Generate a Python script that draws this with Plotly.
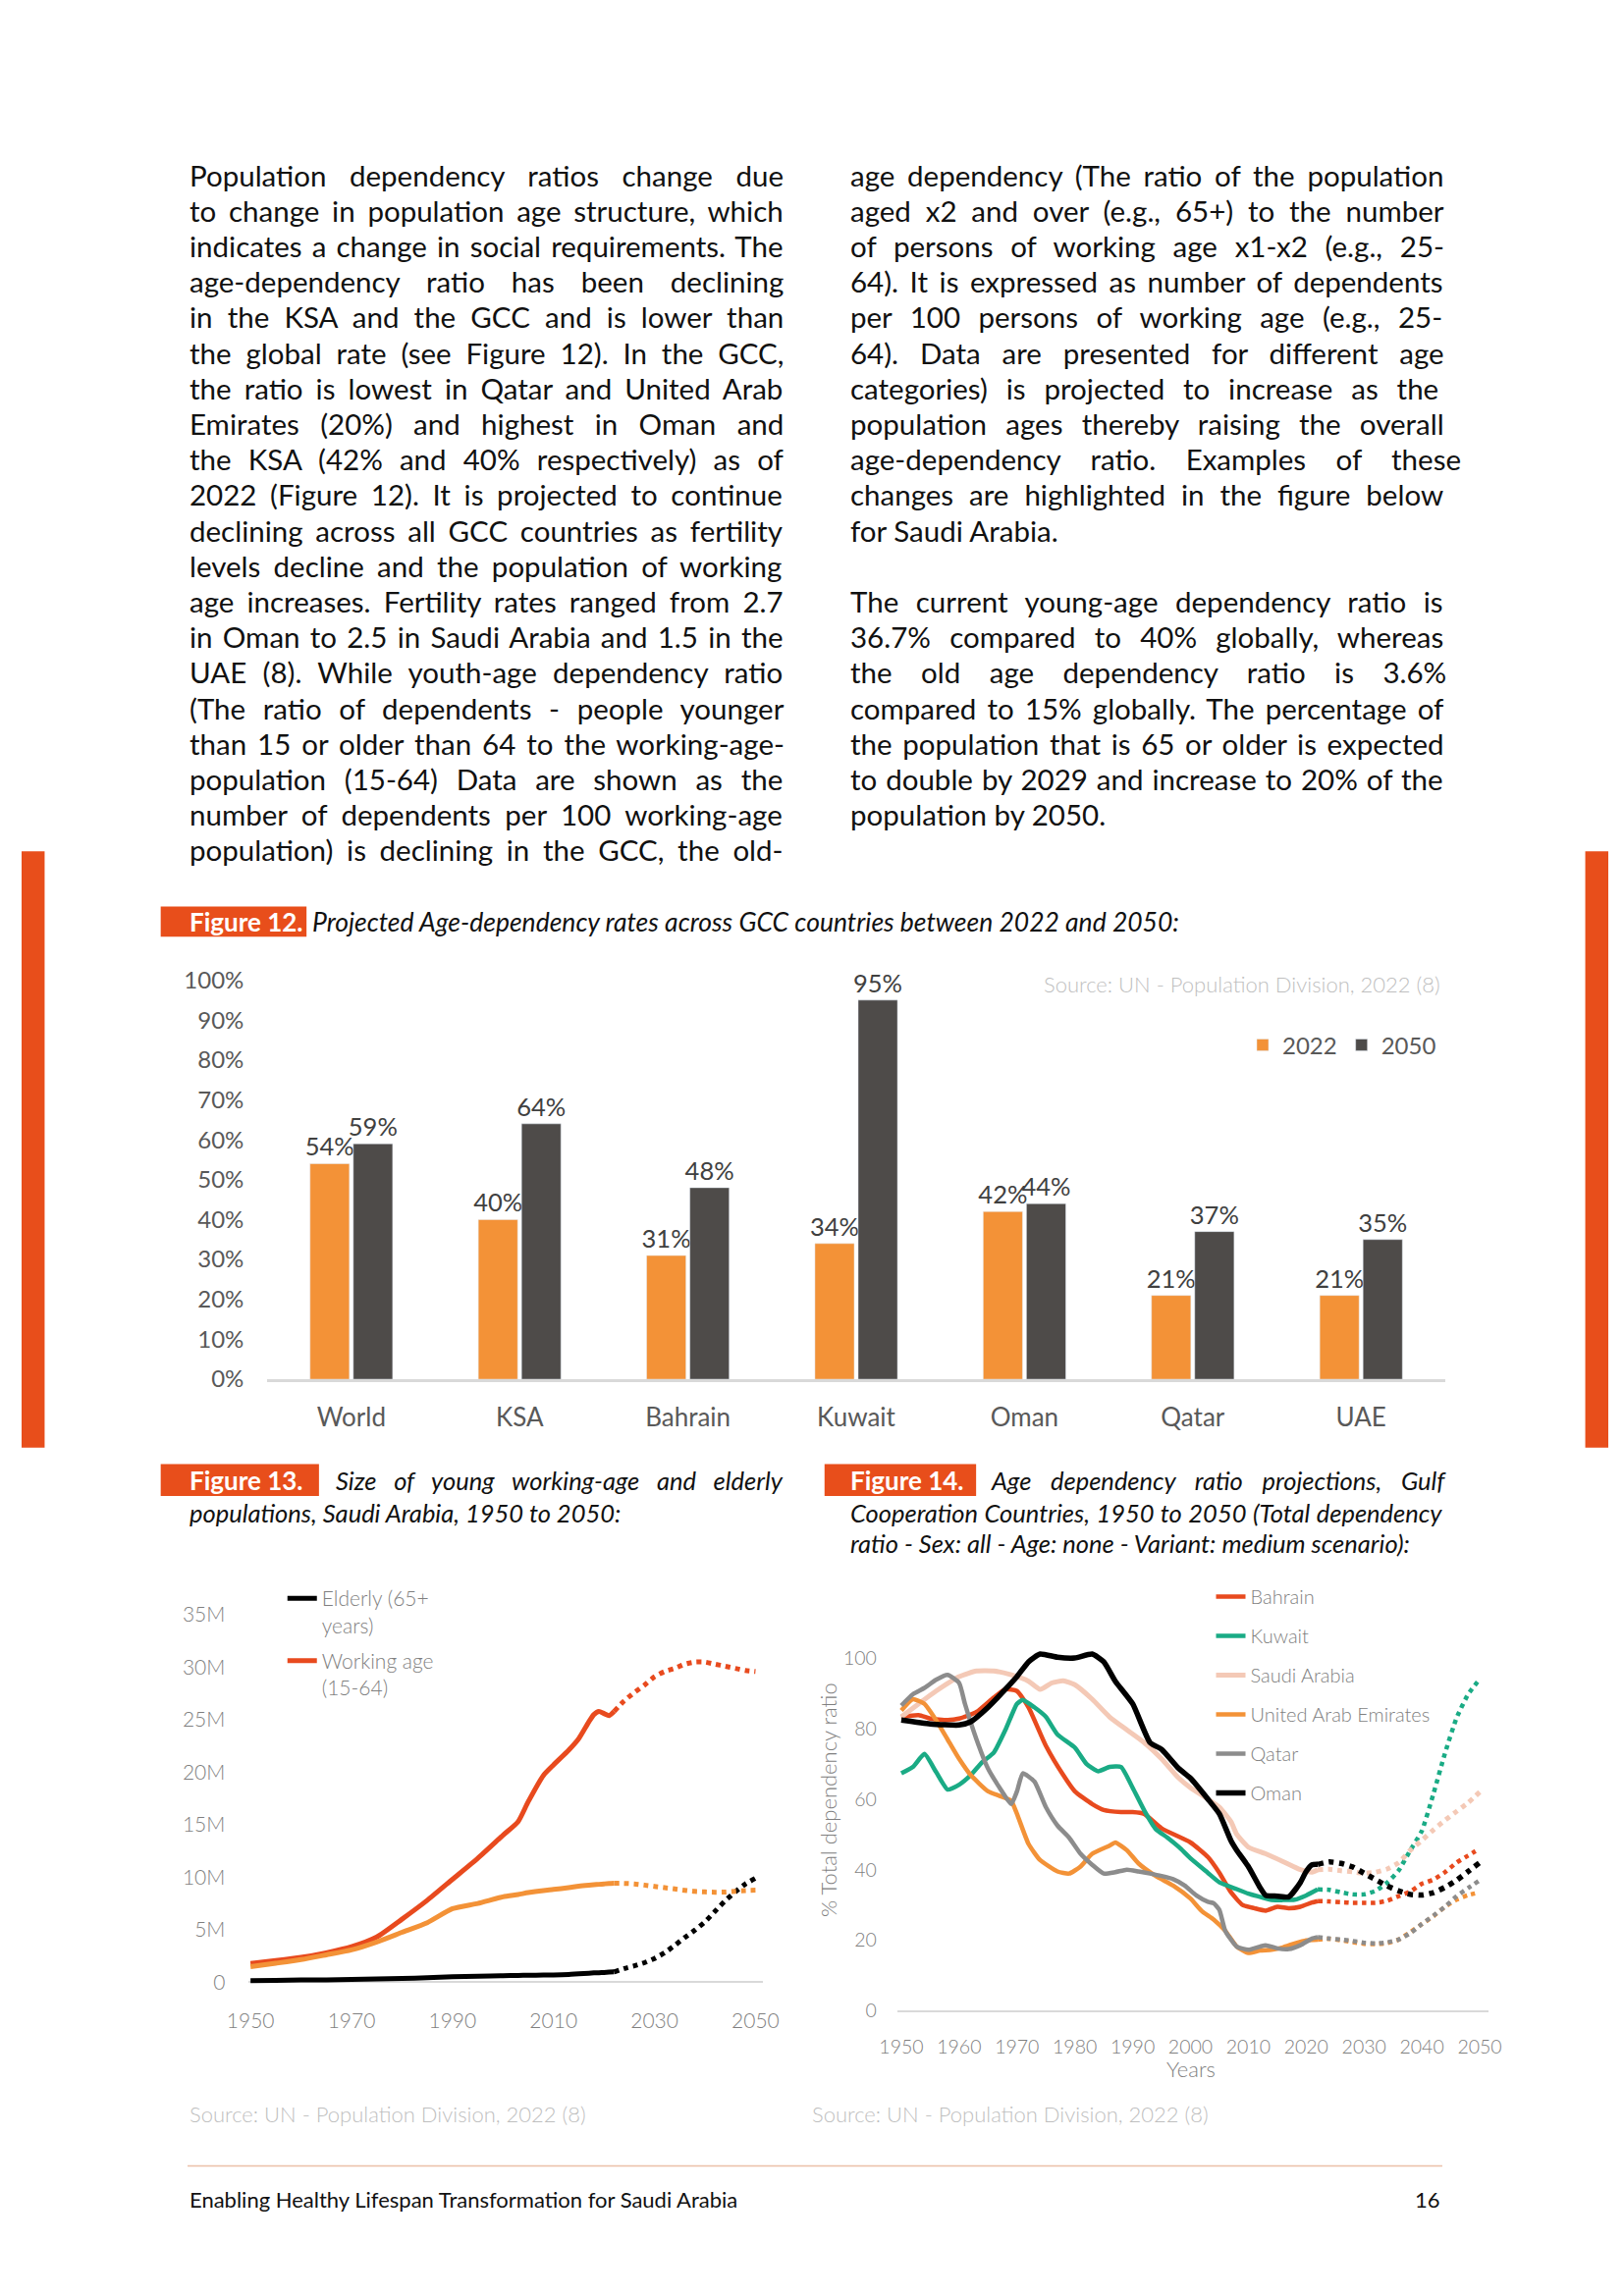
import plotly.graph_objects as go

W, H = 1654, 2339
def px(x): return x / W
def py(y): return 1 - y / H

FONT = "Lato"
BRAND = "#E84E1B"

# ---------------- Figure 12 data ----------------
countries = ["World", "KSA", "Bahrain", "Kuwait", "Oman", "Qatar", "UAE"]
ratio_2022 = [54, 40, 31, 34, 42, 21, 21]
ratio_2050 = [59, 64, 48, 95, 44, 37, 35]
pct_ticks = [0, 10, 20, 30, 40, 50, 60, 70, 80, 90, 100]
pct_labels = ["0%", "10%", "20%", "30%", "40%", "50%", "60%", "70%", "80%", "90%", "100%"]

# ---------------- Figure 13 data (millions) ----------------
f13_years_hist = [1950, 1955, 1960, 1965, 1970, 1975, 1980, 1985, 1990, 1995, 2000, 2003,
                  2005, 2008, 2010, 2013, 2015, 2017, 2018, 2019, 2020, 2021, 2022]
working_hist = [1.78, 2.05, 2.36, 2.8, 3.37, 4.3, 6.0, 7.8, 9.8, 11.8, 14.0, 15.3,
                17.2, 19.7, 20.7, 22.1, 23.2, 24.8, 25.5, 25.8, 25.6, 25.4, 25.8]
young_hist = [1.47, 1.8, 2.15, 2.6, 3.07, 3.83, 4.75, 5.67, 7.0, 7.5, 8.13, 8.35,
              8.53, 8.73, 8.83, 9.0, 9.14, 9.24, 9.28, 9.32, 9.36, 9.4, 9.42]
elderly_hist = [0.15, 0.17, 0.2, 0.22, 0.25, 0.3, 0.34, 0.42, 0.52, 0.57, 0.61, 0.64,
                0.66, 0.67, 0.67, 0.72, 0.8, 0.85, 0.88, 0.9, 0.92, 0.95, 0.98]
f13_years_proj = [2022, 2024, 2026, 2028, 2030, 2032, 2034, 2036, 2038, 2040, 2042, 2044, 2046, 2048, 2050]
working_proj = [25.8, 26.8, 27.6, 28.3, 29.1, 29.6, 29.9, 30.3, 30.5, 30.5, 30.3, 30.1, 29.9, 29.7, 29.6]
young_proj = [9.42, 9.41, 9.36, 9.25, 9.12, 9.0, 8.88, 8.75, 8.65, 8.6, 8.57, 8.58, 8.66, 8.73, 8.76]
elderly_proj = [0.98, 1.3, 1.55, 1.85, 2.25, 2.8, 3.5, 4.25, 4.95, 5.75, 6.75, 7.75, 8.6, 9.35, 9.9]
f13_xticks = [1950, 1970, 1990, 2010, 2030, 2050]
f13_yticks = [0, 5, 10, 15, 20, 25, 30, 35]
f13_ylabels = ["0", "5M", "10M", "15M", "20M", "25M", "30M", "35M"]

# ---------------- Figure 14 data (% total dependency ratio) ----------------
proj_years = [2022, 2024, 2026, 2028, 2030, 2032, 2034, 2036, 2038, 2040, 2042, 2044, 2046, 2048, 2050]

bahrain_years = [1950, 1953, 1955, 1958, 1960, 1963, 1966, 1968, 1970, 1972, 1975, 1978, 1980, 1983,
                 1985, 1988, 1990, 1992, 1995, 2000, 2003, 2005, 2007, 2009, 2011, 2013, 2015, 2017,
                 2019, 2021, 2022]
bahrain_hist = [83.3, 83.8, 82.8, 82.4, 82.8, 84.7, 88.8, 91.1, 90.6, 86.0, 75.1, 66.8, 62.2, 58.6,
                56.9, 56.3, 56.3, 55.8, 51.7, 47.7, 43.6, 39.1, 33.6, 30.0, 29.1, 28.4, 29.5, 29.1,
                29.5, 30.7, 31.1]
bahrain_proj = [31.1, 31.0, 30.8, 30.6, 30.6, 30.6, 31.2, 32.5, 33.8, 36.0, 37.2, 39.3, 42.0, 44.0, 46.0]

kuwait_years = [1950, 1952, 1954, 1956, 1958, 1960, 1962, 1964, 1966, 1968, 1970, 1971, 1973, 1975,
                1977, 1980, 1982, 1984, 1986, 1988, 1990, 1992, 1994, 1996, 1998, 2000, 2003, 2005,
                2008, 2010, 2012, 2014, 2016, 2018, 2020, 2022]
kuwait_hist = [67.3, 69.1, 72.8, 67.7, 62.7, 64.1, 66.8, 70.5, 73.2, 79.6, 87.0, 88.1, 86.0, 83.3,
               78.3, 74.6, 70.0, 67.9, 69.1, 69.1, 63.2, 56.8, 51.5, 49.1, 46.4, 43.2, 39.1, 36.4,
               34.5, 33.2, 32.3, 31.4, 31.4, 31.5, 32.7, 34.4]
kuwait_proj = [34.4, 34.3, 33.6, 33.0, 33.0, 34.0, 36.3, 39.8, 45.5, 51.0, 61.5, 73.0, 83.0, 89.7, 94.0]

saudi_years = [1950, 1953, 1956, 1960, 1963, 1966, 1969, 1972, 1974, 1976, 1978, 1980, 1983, 1986,
               1989, 1992, 1995, 1998, 2000, 2003, 2005, 2007, 2008, 2010, 2013, 2016, 2019, 2021, 2022]
saudi_hist = [83.3, 87.0, 90.6, 94.7, 96.3, 96.3, 95.2, 93.4, 91.1, 92.9, 93.5, 92.4, 88.3, 83.3,
              79.6, 76.0, 71.4, 65.9, 63.2, 60.0, 57.7, 53.6, 50.0, 46.4, 44.5, 42.3, 40.0, 39.3, 40.0]
saudi_proj = [40.0, 40.1, 39.7, 39.4, 39.0, 39.3, 40.2, 42.0, 45.5, 48.3, 51.3, 54.0, 56.5, 59.0, 62.0]

uae_years = [1950, 1952, 1954, 1956, 1958, 1960, 1962, 1965, 1967, 1969, 1970, 1972, 1974, 1977,
             1979, 1981, 1983, 1986, 1987, 1989, 1991, 1994, 1997, 2000, 2002, 2004, 2006, 2008,
             2010, 2012, 2014, 2016, 2018, 2020, 2022]
uae_hist = [85.1, 88.3, 87.0, 82.4, 76.9, 71.4, 66.8, 62.2, 60.9, 59.5, 55.8, 47.3, 42.7, 39.5,
            38.9, 40.9, 44.5, 46.8, 47.7, 45.5, 41.8, 38.2, 35.5, 31.8, 28.2, 25.9, 22.7, 18.2,
            16.4, 17.1, 17.3, 18.0, 19.1, 20.0, 20.2]
uae_proj = [20.2, 20.4, 20.0, 19.5, 19.0, 18.9, 19.2, 20.2, 22.3, 24.6, 26.8, 29.5, 31.5, 32.8, 33.6]

qatar_years = [1950, 1952, 1954, 1956, 1958, 1960, 1961, 1963, 1965, 1967, 1969, 1970, 1971, 1973,
               1975, 1977, 1979, 1981, 1983, 1985, 1987, 1989, 1991, 1993, 1995, 1997, 1999, 2001,
               2003, 2004, 2005, 2006, 2008, 2010, 2012, 2013, 2015, 2017, 2019, 2021, 2022]
qatar_hist = [86.5, 89.7, 91.5, 93.8, 95.2, 92.9, 87.0, 76.9, 68.6, 63.2, 58.6, 62.2, 67.3, 65.0,
              57.7, 52.5, 49.1, 44.5, 41.4, 38.9, 39.3, 40.0, 39.5, 38.9, 38.2, 37.3, 35.5, 32.7,
              30.9, 30.5, 28.6, 22.7, 18.2, 17.3, 18.2, 18.6, 17.7, 17.5, 18.6, 20.5, 20.9]
qatar_proj = [20.9, 20.5, 20.2, 19.8, 19.3, 19.1, 19.4, 20.2, 22.0, 24.6, 27.0, 29.5, 32.5, 34.8, 37.0]

oman_years = [1950, 1955, 1960, 1962, 1965, 1968, 1970, 1972, 1974, 1977, 1980, 1983, 1985, 1987,
              1990, 1993, 1995, 1998, 2000, 2003, 2005, 2007, 2008, 2010, 2012, 2013, 2015, 2017,
              2019, 2020, 2021, 2022]
oman_hist = [82.4, 81.3, 81.0, 81.9, 86.0, 91.1, 94.7, 98.9, 101.1, 100.2, 100.0, 101.1, 98.9, 93.4,
             87.0, 76.0, 74.1, 68.6, 65.9, 60.0, 55.8, 48.2, 45.5, 40.9, 35.0, 32.7, 32.5, 32.3,
             36.4, 39.5, 41.4, 41.5]
oman_proj = [41.5, 42.2, 41.8, 40.8, 39.0, 37.2, 35.4, 34.0, 33.0, 32.8, 33.5, 35.0, 37.0, 39.5, 42.0]

f14_xticks = [1950, 1960, 1970, 1980, 1990, 2000, 2010, 2020, 2030, 2040, 2050]
f14_yticks = [0, 20, 40, 60, 80, 100]

# ---------------- Text ----------------
left_lines = [
    "Population dependency ratios change due",
    "to change in population age structure, which",
    "indicates a change in social requirements. The",
    "age-dependency ratio has been declining",
    "in the KSA and the GCC and is lower than",
    "the global rate (see Figure 12). In the GCC,",
    "the ratio is lowest in Qatar and United Arab",
    "Emirates (20%) and highest in Oman and",
    "the KSA (42% and 40% respectively) as of",
    "2022 (Figure 12). It is projected to continue",
    "declining across all GCC countries as fertility",
    "levels decline and the population of working",
    "age increases. Fertility rates ranged from 2.7",
    "in Oman to 2.5 in Saudi Arabia and 1.5 in the",
    "UAE (8). While youth-age dependency ratio",
    "(The ratio of dependents - people younger",
    "than 15 or older than 64 to the working-age-",
    "population (15-64) Data are shown as the",
    "number of dependents per 100 working-age",
    "population) is declining in the GCC, the old-",
]
# approximate natural line widths (px at 28px font), used only to justify the lines
left_nat28 = [525, 556, 571, 512, 521, 530, 544, 507, 522, 545, 556, 553, 554, 560, 544, 528,
              560, 522, 553, 545]
right_lines = [
    "age dependency (The ratio of the population",
    "aged x2 and over (e.g., 65+) to the number",
    "of persons of working age x1-x2 (e.g., 25-",
    "64). It is expressed as number of dependents",
    "per 100 persons of working age (e.g., 25-",
    "64). Data are presented for different age",
    "categories) is projected to increase as the",
    "population ages thereby raising the overall",
    "age-dependency ratio. Examples of these",
    "changes are highlighted in the figure below",
    "for Saudi Arabia.",
    "",
    "The current young-age dependency ratio is",
    "36.7% compared to 40% globally, whereas",
    "the old age dependency ratio is 3.6%",
    "compared to 15% globally. The percentage of",
    "the population that is 65 or older is expected",
    "to double by 2029 and increase to 20% of the",
    "population by 2050.",
]
right_nat28 = [556, 530, 518, 559, 513, 504, 521, 530, 499, 538, None, None,
               538, 530, 461, 565, 562, 574, None]

fig = go.Figure()

# ---- Figure 12 bars ----
for name, vals, col in [("2022", ratio_2022, "#F39237"), ("2050", ratio_2050, "#4E4B49")]:
    fig.add_trace(go.Bar(x=countries, y=vals, name=name, marker_color=col,
                         text=[f"{v}%" for v in vals], textposition="outside",
                         textfont=dict(size=25.5, color="#404040", family=FONT), cliponaxis=False,
                         constraintext="none", xaxis="x", yaxis="y", legend="legend"))

# ---- Figure 13 lines ----
def add13(xh, yh, xp, yp, color, name, show):
    fig.add_trace(go.Scatter(x=xh, y=yh, mode="lines", name=name, showlegend=show,
                             line=dict(color=color, width=5, shape="spline", smoothing=0.6),
                             legendgroup=name + "13", xaxis="x2", yaxis="y2", legend="legend2"))
    fig.add_trace(go.Scatter(x=xp, y=yp, mode="lines", name=name, showlegend=False,
                             line=dict(color=color, width=5, dash="5px,5px", shape="spline",
                                       smoothing=0.6),
                             legendgroup=name + "13", xaxis="x2", yaxis="y2", legend="legend2"))

add13(f13_years_hist, elderly_hist, f13_years_proj, elderly_proj, "#000000", "Elderly (65+<br>years)", True)
add13(f13_years_hist, working_hist, f13_years_proj, working_proj, "#E84A1E", "Working age<br>(15-64)", True)
add13(f13_years_hist, young_hist, f13_years_proj, young_proj, "#F39237", "Young (0-14)", False)

# ---- Figure 14 lines ----
series14 = [
    ("Bahrain", bahrain_years, bahrain_hist, bahrain_proj, "#E84A1E", 4.5),
    ("Kuwait", kuwait_years, kuwait_hist, kuwait_proj, "#1AAB85", 4.5),
    ("Saudi Arabia", saudi_years, saudi_hist, saudi_proj, "#F4C9B6", 5),
    ("United Arab Emirates", uae_years, uae_hist, uae_proj, "#F39237", 4.5),
    ("Qatar", qatar_years, qatar_hist, qatar_proj, "#8C8C8C", 4.5),
    ("Oman", oman_years, oman_hist, oman_proj, "#000000", 5.5),
]
for i, (name, yrs, hist, proj, color, lw) in enumerate(series14):
    fig.add_trace(go.Scatter(x=yrs, y=hist, mode="lines", name=name, legendgroup=name,
                             line=dict(color=color, width=lw, shape="spline", smoothing=0.5),
                             xaxis="x3", yaxis="y3", legend="legend3"))
    fig.add_trace(go.Scatter(x=proj_years, y=proj, mode="lines", name=name, legendgroup=name,
                             showlegend=False,
                             line=dict(color=color, width=lw, dash="%.1fpx,%.1fpx" % (lw, lw),
                                       shape="spline", smoothing=0.5),
                             xaxis="x3", yaxis="y3", legend="legend3"))

# ---------------- Layout: axes ----------------
tick_gray = "#595959"
light_gray = "#7F7F7F"
axis_line = "#D9D9D9"

layout = dict(
    width=W, height=H, autosize=False,
    margin=dict(l=0, r=0, t=0, b=0),
    paper_bgcolor="white", plot_bgcolor="rgba(0,0,0,0)",
    font=dict(family=FONT, color="#000000"),
    barmode="group", bargap=0.486, bargroupgap=0.09,
    # Fig 12
    xaxis=dict(domain=[px(256), px(1484)], anchor="y", showline=True, linecolor=axis_line,
               linewidth=3, showgrid=False, ticks="outside", ticklen=14,
               tickcolor="rgba(0,0,0,0)", tickfont=dict(size=26, color=tick_gray, family=FONT)),
    yaxis=dict(domain=[py(1406.5), py(994.8)], anchor="x", range=[0, 100], tickvals=pct_ticks,
               ticktext=pct_labels, showgrid=False, zeroline=False, showline=False,
               ticks="outside", ticklen=18, tickcolor="rgba(0,0,0,0)",
               tickfont=dict(size=24, color=tick_gray, family=FONT)),
    # Fig 13
    xaxis2=dict(domain=[px(236), px(772.9)], anchor="y2", range=[1949.5, 2051.5],
                tickvals=f13_xticks, showgrid=False, showline=False, zeroline=False,
                ticks="outside", ticklen=14, tickcolor="rgba(0,0,0,0)",
                tickfont=dict(size=21, color=light_gray, family=FONT, weight=300)),
    yaxis2=dict(domain=[py(2034.9), py(1627.9)], anchor="x2", range=[-0.6, 37],
                tickvals=f13_yticks, ticktext=f13_ylabels, showgrid=False, showline=False,
                zeroline=True, zerolinecolor=axis_line, zerolinewidth=2,
                ticks="outside", ticklen=18, tickcolor="rgba(0,0,0,0)",
                tickfont=dict(size=21, color=light_gray, family=FONT, weight=300)),
    # Fig 14
    xaxis3=dict(domain=[px(912.8), px(1529)], anchor="y3", range=[1949.3, 2051.5],
                tickvals=f14_xticks, showgrid=False, showline=False, zeroline=False,
                ticks="outside", ticklen=14, tickcolor="rgba(0,0,0,0)",
                tickfont=dict(size=19.5, color=light_gray, family=FONT, weight=300)),
    yaxis3=dict(domain=[py(2063.5), py(1679.4)], anchor="x3", range=[-1.5, 104],
                tickvals=f14_yticks, showgrid=False, showline=False,
                zeroline=True, zerolinecolor=axis_line, zerolinewidth=2,
                ticks="outside", ticklen=16, tickcolor="rgba(0,0,0,0)",
                tickfont=dict(size=19.5, color=light_gray, family=FONT, weight=300)),
    legend=dict(orientation="h", x=px(1480), xanchor="right", y=py(1062), yanchor="middle",
                font=dict(size=24, color=tick_gray, family=FONT), bgcolor="rgba(0,0,0,0)",
                itemwidth=30, traceorder="normal"),
    legend2=dict(x=px(272), xanchor="left", y=py(1612), yanchor="top", valign="top",
                 font=dict(size=21, color=light_gray, family=FONT, weight=300),
                 bgcolor="rgba(0,0,0,0)", tracegroupgap=6, traceorder="grouped"),
    legend3=dict(x=px(1240), xanchor="left", y=py(1611), yanchor="top",
                 font=dict(size=20, color=light_gray, family=FONT, weight=300),
                 bgcolor="rgba(0,0,0,0)", tracegroupgap=11, traceorder="grouped"),
)
fig.update_layout(**layout)

# ---------------- Shapes ----------------
def rect(x0, x1, y0, y1, color):
    return dict(type="rect", xref="paper", yref="paper", x0=px(x0), x1=px(x1),
                y0=py(y1), y1=py(y0), fillcolor=color, line_width=0, layer="below")

shapes = [
    rect(0, 24, 862, 1477, BRAND),
    rect(1630, 1654, 862, 1477, BRAND),
    rect(145, 297, 919, 950, BRAND),
    rect(145, 310, 1494, 1527, BRAND),
    rect(837, 995, 1494, 1527, BRAND),
    dict(type="line", xref="paper", yref="paper", x0=px(173), x1=px(1481), y0=py(2218), y1=py(2218),
         line=dict(color="#EBC0A8", width=1.5)),
]
fig.update_layout(shapes=shapes)

# ---------------- Annotations ----------------
ann = []
def text(x, y, s, size, color="#000000", anchor="left", style="normal", weight="normal",
         angle=0):
    ann.append(dict(x=px(x), y=py(y), xref="paper", yref="paper", text=s, showarrow=False,
                    xanchor=anchor, yanchor="middle", textangle=angle,
                    font=dict(family=FONT, size=size, color=color, style=style, weight=weight)))

def justify(s, nat, size, base, target):
    if nat is None:
        return s
    gaps = len(s.split(" ")) - 1
    ws = max(0.0, (target - nat * size / base) / max(gaps, 1))
    return '<span style="word-spacing:%.1fpx">%s</span>' % (ws, s)

BODY = 29.5
COLW = 617
for i, line in enumerate(left_lines):
    text(173, 164.1 + i * 36.66, justify(line, left_nat28[i], BODY, 28, COLW), BODY, "#111111")
for i, line in enumerate(right_lines):
    if line:
        text(862, 164.1 + i * 36.66, justify(line, right_nat28[i], BODY, 28, COLW), BODY, "#111111")

# figure labels and captions
TT = 25.5
text(173, 934.5, "Figure 12.", 26, "white", weight="bold")
text(301, 934.5, "Projected Age-dependency rates across GCC countries between 2022 and 2050:", 26.5,
     "#111111", style="italic")
text(1481, 999, "Source: UN - Population Division, 2022 (8)", 22, "#BFBFBF", anchor="right", weight=300)

text(173, 1511, "Figure 13.", 26, "white", weight="bold")
text(325, 1511, justify("Size of young working-age and elderly", 398.6, TT, 25, 465), TT,
     "#111111", style="italic")
text(173, 1544, "populations, Saudi Arabia, 1950 to 2050:", TT, "#111111", style="italic")

text(862, 1511, "Figure 14.", 26, "white", weight="bold")
text(1008, 1511, justify("Age dependency ratio projections, Gulf", 408, TT, 25, 471), TT,
     "#111111", style="italic")
text(862, 1544, justify("Cooperation Countries, 1950 to 2050 (Total dependency", 602, TT, 25, 617),
     TT, "#111111", style="italic")
text(862, 1576, "ratio - Sex: all - Age: none - Variant: medium scenario):", TT, "#111111", style="italic")

text(840, 1840, "% Total dependency ratio", 22, light_gray, anchor="center", weight=300, angle=-90)
text(1219, 2118, "Years", 22, light_gray, anchor="center", weight=300)

text(173, 2164, "Source: UN - Population Division, 2022 (8)", 22, "#BFBFBF", weight=300)
text(822, 2164, "Source: UN - Population Division, 2022 (8)", 22, "#BFBFBF", weight=300)

text(173, 2252, "Enabling Healthy Lifespan Transformation for Saudi Arabia", 22, "#111111")
text(1481, 2252, "16", 22, "#111111", anchor="right")

fig.update_layout(annotations=ann)

PAGE_JS = (
    "document.documentElement.style.margin='0';document.body.style.margin='0';"
    "document.body.style.padding='0';document.documentElement.style.overflow='hidden';"
    "var gd=document.getElementsByClassName('plotly-graph-div')[0];"
    "if(gd){gd.style.position='fixed';gd.style.left='0px';gd.style.top='0px';}"
)
fig.write_html("out.html", config={"displayModeBar": False}, post_script=PAGE_JS)
